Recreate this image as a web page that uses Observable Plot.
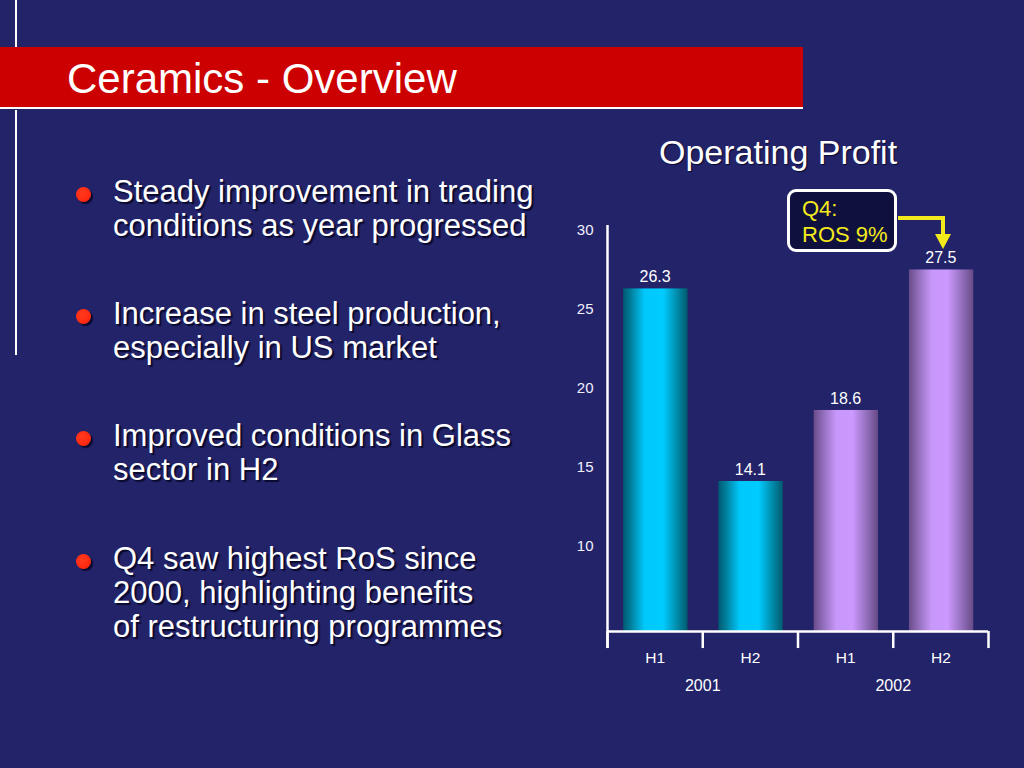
<!DOCTYPE html>
<html>
<head>
<meta charset="utf-8">
<script src="https://cdn.jsdelivr.net/npm/d3@7"></script>
<script src="https://cdn.jsdelivr.net/npm/@observablehq/plot@0.6"></script>
<style>
  html, body { margin: 0; padding: 0; background: #232369; }
  #stage { position: relative; width: 1024px; height: 768px; overflow: hidden; background: #232369;
           font-family: "Liberation Sans", Arial, Helvetica, sans-serif; color: #fff; }
  #chart { position: absolute; left: 0; top: 0; }
  .abs { position: absolute; }
  .vline { position: absolute; left: 15px; width: 2px; background: #fff; }
  #banner { left: 0; top: 47px; width: 803px; height: 60px; background: #cc0000; }
  #bannerLine { left: 0; top: 107px; width: 803px; height: 2px; background: #fff; }
  #title { left: 67px; top: 58px; font-size: 42px; line-height: 42px; white-space: nowrap; }
  #opTitle { left: 659px; top: 135px; font-size: 34px; line-height: 34px; white-space: nowrap;
             text-shadow: 1px 1px 1px #0a0a30; }
  .bullet { position: absolute; left: 113px; font-size: 31px; line-height: 34px; white-space: nowrap;
            text-shadow: 2px 2px 1px #0a0a2e; }
  .dot { position: absolute; left: 76px; width: 15px; height: 15px; border-radius: 50%;
         background: radial-gradient(circle at 40% 38%, #ff3a1e 0%, #ff2a10 60%, #d81a08 100%);
         box-shadow: 2px 2px 1px #0a0a2e; }
  #callout { left: 787px; top: 189px; width: 110px; height: 63px; box-sizing: border-box;
             border: 3px solid #fff; border-radius: 9px; background: #10103f;
             color: #f3ea1c; font-size: 22px; line-height: 26px; padding: 4px 0 0 12px; white-space: nowrap; }
  #arrow { position: absolute; left: 0; top: 0; pointer-events: none; }
</style>
</head>
<body>
<div id="stage">
  <div class="vline" style="top:0;height:47px"></div>
  <div class="vline" style="top:110px;height:245px"></div>
  <div id="banner" class="abs"></div>
  <div id="bannerLine" class="abs"></div>
  <div id="title" class="abs"></div>
  <div id="opTitle" class="abs"></div>
  <div id="chart"></div>
  <div id="bullets"></div>
  <div id="callout" class="abs"></div>
  <svg id="arrow" width="1024" height="768">
    <path d="M898,218 H943 V236" fill="none" stroke="#f3ea1c" stroke-width="4" stroke-linejoin="miter"/>
    <polygon points="935,234 951,234 943,249" fill="#f3ea1c"/>
  </svg>
</div>
<script>
// ---- data ----
const titleText = "Ceramics - Overview";
const chartTitle = "Operating Profit";
const years = ["2001", "2001", "2002", "2002"];
const halves = ["H1", "H2", "H1", "H2"];
const profit = [26.3, 14.1, 18.6, 27.5];
const yearLabels = ["2001", "2002"];
const yTicks = [10, 15, 20, 25, 30];
const calloutLines = ["Q4:", "ROS 9%"];
const bulletTexts = [
  ["Steady improvement in trading", "conditions as year progressed"],
  ["Increase in steel production,", "especially in US market"],
  ["Improved conditions in Glass", "sector in H2"],
  ["Q4 saw highest RoS since", "2000, highlighting benefits", "of restructuring programmes"]
];

const data = halves.map((h, i) => ({ i, half: h, year: years[i], value: profit[i] }));
const yMin = 4.6, yMax = 30;

// ---- text blocks ----
document.getElementById("title").textContent = titleText;
document.getElementById("opTitle").textContent = chartTitle;
document.getElementById("callout").innerHTML = calloutLines.join("<br>");
const bulletTops = [175, 297, 419, 542];
const bl = document.getElementById("bullets");
bulletTexts.forEach((lines, k) => {
  const d = document.createElement("div");
  d.className = "bullet";
  d.style.top = bulletTops[k] + "px";
  d.innerHTML = lines.join("<br>");
  bl.appendChild(d);
  const dot = document.createElement("div");
  dot.className = "dot";
  dot.style.top = (bulletTops[k] + 12) + "px";
  bl.appendChild(dot);
});

// ---- chart ----
const axisColor = "#ffffff";
const chart = Plot.plot({
  width: 1024,
  height: 768,
  marginLeft: 607,
  marginRight: 36,
  marginTop: 230,
  marginBottom: 137,
  x: { domain: [0, 4], axis: null },
  y: { domain: [yMin, yMax], axis: null },
  style: { background: "transparent", color: "#ffffff", fontFamily: "'Liberation Sans', Arial, sans-serif", overflow: "visible" },
  marks: [
    Plot.axisY(yTicks, { anchor: "left", tickSize: 0, tickPadding: 14, fontSize: 15, fill: "#f0f0ff", label: null }),
    Plot.rectY(data, { filter: d => d.year === "2001", x1: d => d.i + 0.17, x2: d => d.i + 0.845, y1: yMin, y2: "value", fill: "url(#gradCyan)" }),
    Plot.rectY(data, { filter: d => d.year === "2002", x1: d => d.i + 0.17, x2: d => d.i + 0.845, y1: yMin, y2: "value", fill: "url(#gradPurple)" }),
    Plot.ruleX([0], { y1: 3.52, y2: 30.32, stroke: axisColor, strokeWidth: 2.5 }),
    Plot.ruleX([0, 1, 2, 3, 4], { y1: 3.52, y2: yMin, stroke: axisColor, strokeWidth: 2.5 }),
    Plot.ruleY([yMin], { x1: 0, x2: 4, stroke: axisColor, strokeWidth: 2.5 }),
    Plot.text(data, { x: d => d.i + 0.5, y: "value", text: d => d.value.toFixed(1), dy: -12, fontSize: 16, fill: "#ffffff" }),
    Plot.text(data, { x: d => d.i + 0.5, y: yMin, text: "half", dy: 26.5, fontSize: 15.5, fill: "#ffffff" }),
    Plot.text(yearLabels, { x: (d, k) => 2 * k + 1, y: yMin, text: d => d, dy: 54.5, fontSize: 16, fill: "#ffffff" })
  ]
});
d3.select(chart).insert("defs", ":first-child").html(`
  <linearGradient id="gradCyan" x1="0" y1="0" x2="1" y2="0">
    <stop offset="0" stop-color="#005a72"/>
    <stop offset="0.12" stop-color="#007f9c"/>
    <stop offset="0.33" stop-color="#00c8fa"/>
    <stop offset="0.62" stop-color="#00ccff"/>
    <stop offset="0.85" stop-color="#0088a6"/>
    <stop offset="1" stop-color="#005a6e"/>
  </linearGradient>
  <linearGradient id="gradPurple" x1="0" y1="0" x2="1" y2="0">
    <stop offset="0" stop-color="#684c88"/>
    <stop offset="0.12" stop-color="#8a68b2"/>
    <stop offset="0.35" stop-color="#c797fa"/>
    <stop offset="0.6" stop-color="#cc99ff"/>
    <stop offset="0.85" stop-color="#8c6ab4"/>
    <stop offset="1" stop-color="#664a86"/>
  </linearGradient>`);
document.getElementById("chart").appendChild(chart);
</script>
</body>
</html>
